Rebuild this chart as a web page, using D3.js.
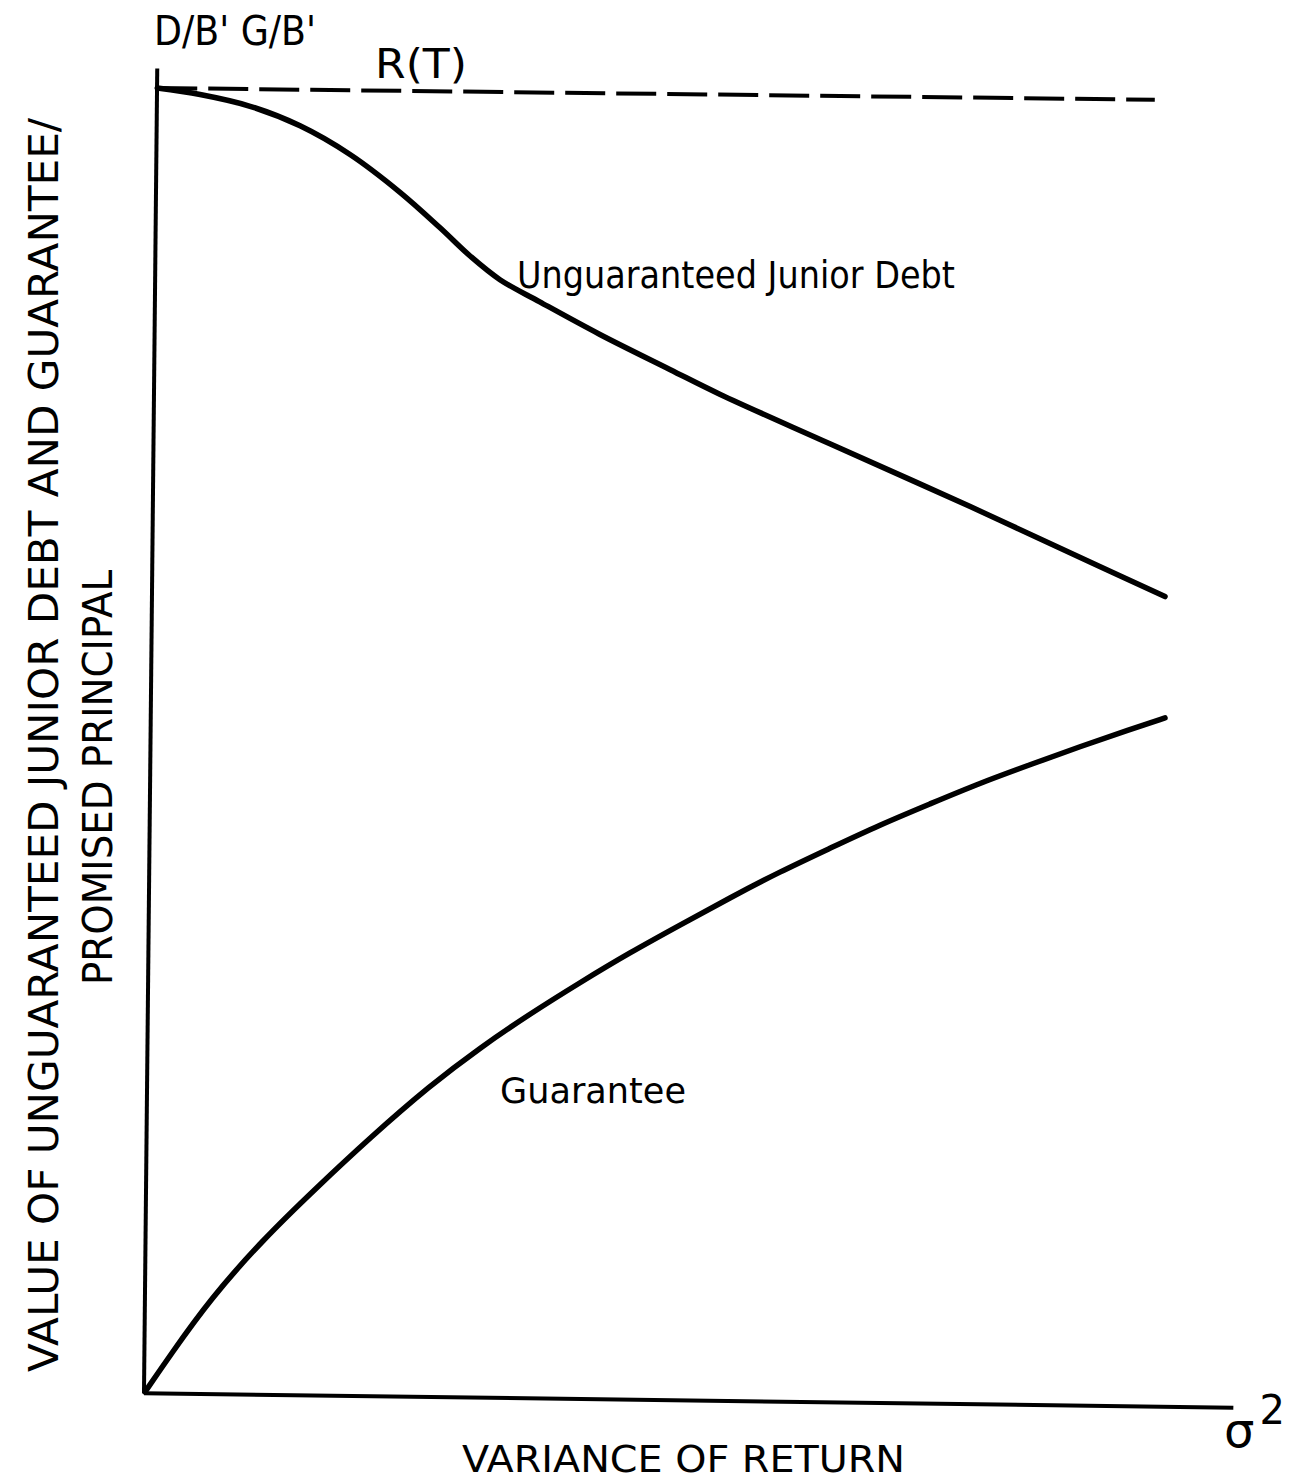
<!DOCTYPE html>
<html>
<head>
<meta charset="utf-8">
<script src="https://cdn.jsdelivr.net/npm/d3@7"></script>
<style>
  body { margin: 0; background: #fff; }
  svg { display: block; }
  text { font-family: "DejaVu Sans", sans-serif; fill: #000; }
</style>
</head>
<body>
<svg id="chart" width="1310" height="1483"></svg>
<script>
// variance of return (arbitrary units, 0-100) and value / promised principal
const juniorX = [1.2, 5.4, 10.3, 15.2, 20.1, 25.0, 28.9, 31.9, 34.8, 38.7, 44.6, 51.5, 56.4, 67.2, 80.9, 93.6, 100];
const juniorY = [1.0, 0.995, 0.986, 0.971, 0.949, 0.920, 0.893, 0.871, 0.853, 0.836, 0.811, 0.784, 0.765, 0.727, 0.679, 0.633, 0.610];

const guarX = [0, 2.45, 6.37, 11.57, 16.86, 22.06, 27.94, 32.84, 37.75, 42.65, 47.55, 52.45, 57.35, 62.25, 67.16, 72.06, 76.96, 81.86, 86.76, 91.67, 96.57, 100];
const guarY = [0, 0.028, 0.071, 0.117, 0.157, 0.195, 0.235, 0.264, 0.290, 0.314, 0.337, 0.358, 0.379, 0.399, 0.417, 0.435, 0.451, 0.467, 0.481, 0.495, 0.508, 0.517];

// riskless value R(T)
const riskX = [1.2, 99];
const riskY = [1.0, 0.991];

const svg = d3.select("#chart");

const xScale = d3.scaleLinear().domain([0, 100]).range([145, 1165]);
const yScale = d3.scaleLinear().domain([0, 1]).range([1392, 88]);

const makeLine = (curve) => d3.line()
  .x(d => xScale(d[0]))
  .y(d => yScale(d[1]))
  .curve(curve);
const line = makeLine(d3.curveCatmullRom.alpha(0.5));
const smoothLine = makeLine(d3.curveBasis);

// axes (hand drawn, slightly tilted)
svg.append("path")
    .attr("d", d3.line()([[xScale(1.2), yScale(1.015)], [xScale(-0.1), yScale(-0.001)]]))
    .attr("stroke", "#000")
    .attr("stroke-width", 4)
    .attr("fill", "none");
svg.append("path")
    .attr("d", d3.line()([[xScale(-0.1), yScale(-0.001)], [xScale(106.7), yScale(-0.012)]]))
    .attr("stroke", "#000")
    .attr("stroke-width", 4)
    .attr("fill", "none");

// R(T) dashed line
svg.append("path")
    .attr("d", line(riskX.map((x, i) => [x, riskY[i]])))
    .attr("stroke", "#000")
    .attr("stroke-width", 4)
    .attr("stroke-dasharray", "40 11")
    .attr("fill", "none");

svg.append("path")
    .attr("d", line(juniorX.map((x, i) => [x, juniorY[i]])))
    .attr("stroke", "#000")
    .attr("stroke-width", 5.5)
    .attr("stroke-linecap", "round")
    .attr("fill", "none");

svg.append("path")
    .attr("d", smoothLine(guarX.map((x, i) => [x, guarY[i]])))
    .attr("stroke", "#000")
    .attr("stroke-width", 5.5)
    .attr("stroke-linecap", "round")
    .attr("fill", "none");

// labels
const label = (txt, x, y, size, len) => svg.append("text")
    .attr("x", x)
    .attr("y", y)
    .attr("textLength", len)
    .attr("lengthAdjust", "spacingAndGlyphs")
    .style("font-size", size + "px")
    .text(txt);

label("D/B' G/B'", 154, 45, 40, 162);
label("R(T)", 375, 78, 40, 92);
label("Unguaranteed Junior Debt", 517, 288, 37, 438);
label("Guarantee", 500, 1103, 35, 186);
label("VARIANCE OF RETURN", 462, 1472, 38, 443);

svg.append("text")
    .attr("x", 1224)
    .attr("y", 1447)
    .style("font-size", "48px")
    .text("σ")
  .append("tspan")
    .attr("dx", 5)
    .attr("dy", -23)
    .style("font-size", "40px")
    .text("2");

// y title, two lines rotated
const yTitle = svg.append("g")
    .attr("transform", "rotate(-90)");
yTitle.append("text")
    .attr("x", -1372)
    .attr("y", 58)
    .attr("textLength", 1254)
    .attr("lengthAdjust", "spacingAndGlyphs")
    .style("font-size", "41px")
    .text("VALUE OF UNGUARANTEED JUNIOR DEBT AND GUARANTEE/");
yTitle.append("text")
    .attr("x", -985)
    .attr("y", 112)
    .attr("textLength", 415)
    .attr("lengthAdjust", "spacingAndGlyphs")
    .style("font-size", "41px")
    .text("PROMISED PRINCIPAL");
</script>
</body>
</html>
